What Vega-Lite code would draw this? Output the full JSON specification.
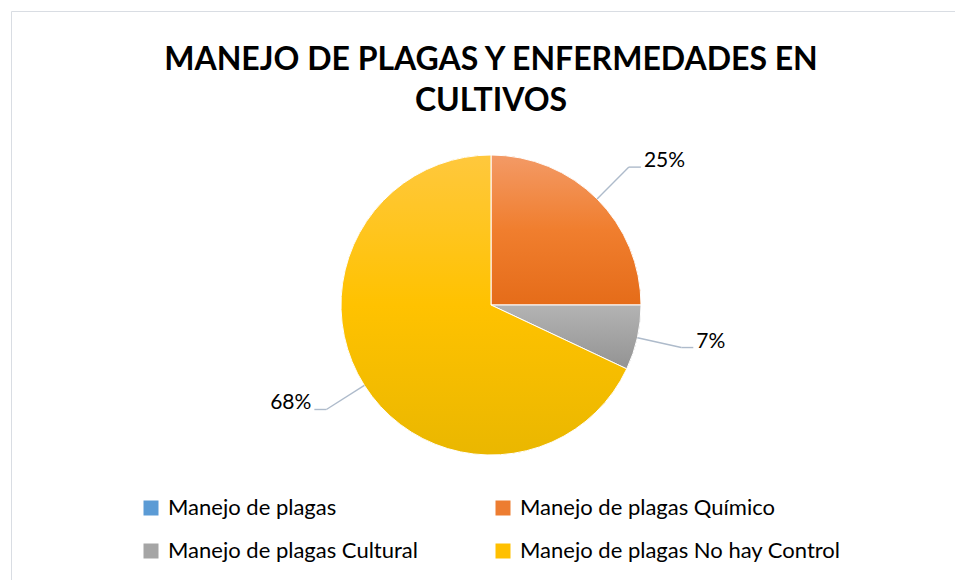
{
  "$schema": "https://vega.github.io/schema/vega-lite/v6.json",
  "autosize": "none",
  "width": 960,
  "height": 588,
  "padding": {"left": 11, "top": 11, "right": 0, "bottom": 0},
  "background": "#ffffff",
  "config": {
    "view": {"stroke": "#D9DDE3", "strokeWidth": 1},
    "font": "Lato"
  },
  "title": {
    "text": ["MANEJO DE PLAGAS Y ENFERMEDADES EN", "CULTIVOS"],
    "anchor": "middle",
    "frame": "group",
    "font": "Lato",
    "fontSize": 32,
    "fontWeight": "bold",
    "color": "#000000",
    "lineHeight": 41,
    "baseline": "alphabetic",
    "offset": -132
  },
  "data": {
    "values": [
      {"categoria": "Manejo de plagas", "porcentaje": 0, "orden": 1},
      {"categoria": "Manejo de plagas Químico", "porcentaje": 25, "orden": 2},
      {"categoria": "Manejo de plagas Cultural", "porcentaje": 7, "orden": 3},
      {"categoria": "Manejo de plagas No hay Control", "porcentaje": 68, "orden": 4}
    ]
  },
  "layer": [
    {
      "mark": {"type": "arc", "outerRadius": 150},
      "encoding": {
        "theta": {"field": "porcentaje", "type": "quantitative", "stack": true},
        "order": {"field": "orden", "type": "quantitative"},
        "color": {
          "field": "categoria",
          "type": "nominal",
          "sort": ["Manejo de plagas", "Manejo de plagas Químico", "Manejo de plagas Cultural", "Manejo de plagas No hay Control"],
          "scale": {
            "domain": ["Manejo de plagas", "Manejo de plagas Químico", "Manejo de plagas Cultural", "Manejo de plagas No hay Control"],
            "range": ["#5B9BD5", "#ED7D31", "#A5A5A5", "#FFC000"]
          },
          "legend": {
            "title": null,
            "orient": "none",
            "legendX": 129,
            "legendY": 486,
            "direction": "horizontal",
            "columns": 2,
            "columnPadding": 74,
            "rowPadding": 21,
            "padding": 0,
            "symbolType": "square",
            "symbolSize": 225,
            "symbolStrokeWidth": 0,
            "labelFont": "Lato",
            "labelFontSize": 22,
            "labelColor": "#000000",
            "labelOffset": 6,
            "labelLimit": 400
          }
        }
      }
    },
    {
      "mark": {"type": "arc", "outerRadius": 150, "stroke": "#ffffff", "strokeWidth": 1},
      "encoding": {
        "theta": {"field": "porcentaje", "type": "quantitative", "stack": true},
        "order": {"field": "orden", "type": "quantitative"},
        "fill": {
          "condition": [
            {"test": "datum.categoria === 'Manejo de plagas Químico'", "value": {"gradient": "linear", "x1": 0, "y1": 0, "x2": 0, "y2": 1, "stops": [{"offset": 0, "color": "#F39A66"}, {"offset": 0.5, "color": "#F07E2E"}, {"offset": 1, "color": "#E56C19"}]}},
            {"test": "datum.categoria === 'Manejo de plagas Cultural'", "value": {"gradient": "linear", "x1": 0, "y1": 0, "x2": 0, "y2": 1, "stops": [{"offset": 0, "color": "#B3B3B3"}, {"offset": 1, "color": "#939393"}]}},
            {"test": "datum.categoria === 'Manejo de plagas No hay Control'", "value": {"gradient": "linear", "x1": 0, "y1": 0, "x2": 0, "y2": 1, "stops": [{"offset": 0, "color": "#FFC83D"}, {"offset": 0.5, "color": "#FFC200"}, {"offset": 1, "color": "#EAB700"}]}}
          ],
          "value": "#5B9BD5"
        }
      }
    },
    {
      "transform": [
        {"stack": "porcentaje", "groupby": [], "sort": [{"field": "orden", "order": "ascending"}], "as": ["ini", "fin"]},
        {"filter": "datum.porcentaje > 0"},
        {"calculate": "PI * (datum.ini + datum.fin) / 100", "as": "ang"},
        {"calculate": "150 * sin(datum.ang)", "as": "x0"},
        {"calculate": "150 * cos(datum.ang)", "as": "y0"},
        {"calculate": "195 * sin(datum.ang)", "as": "x1"},
        {"calculate": "195 * cos(datum.ang)", "as": "y1"},
        {"calculate": "datum.x1 >= 0 ? datum.x1 + 12 : datum.x1 - 12", "as": "x2"},
        {"calculate": "datum.x1 >= 0 ? datum.x1 + 15 : datum.x1 - 15", "as": "lx"},
        {"calculate": "datum.porcentaje + '%'", "as": "etiqueta"}
      ],
      "layer": [
        {
          "mark": {"type": "rule", "color": "#AEBBCB", "strokeWidth": 1.4},
          "encoding": {
            "x": {"field": "x0", "type": "quantitative", "scale": {"domain": [-480, 480], "nice": false, "zero": false}, "axis": null},
            "y": {"field": "y0", "type": "quantitative", "scale": {"domain": [-294, 294], "nice": false, "zero": false}, "axis": null},
            "x2": {"field": "x1"},
            "y2": {"field": "y1"}
          }
        },
        {
          "mark": {"type": "rule", "color": "#AEBBCB", "strokeWidth": 1.4},
          "encoding": {
            "x": {"field": "x1", "type": "quantitative", "scale": {"domain": [-480, 480], "nice": false, "zero": false}, "axis": null},
            "y": {"field": "y1", "type": "quantitative", "scale": {"domain": [-294, 294], "nice": false, "zero": false}, "axis": null},
            "x2": {"field": "x2"}
          }
        },
        {
          "mark": {"type": "text", "font": "Lato", "fontSize": 21, "color": "#000000", "baseline": "middle", "dy": -6, "align": {"expr": "datum.x1 >= 0 ? 'left' : 'right'"}},
          "encoding": {
            "x": {"field": "lx", "type": "quantitative", "scale": {"domain": [-480, 480], "nice": false, "zero": false}, "axis": null},
            "y": {"field": "y1", "type": "quantitative", "scale": {"domain": [-294, 294], "nice": false, "zero": false}, "axis": null},
            "text": {"field": "etiqueta", "type": "nominal"}
          }
        }
      ]
    }
  ]
}
